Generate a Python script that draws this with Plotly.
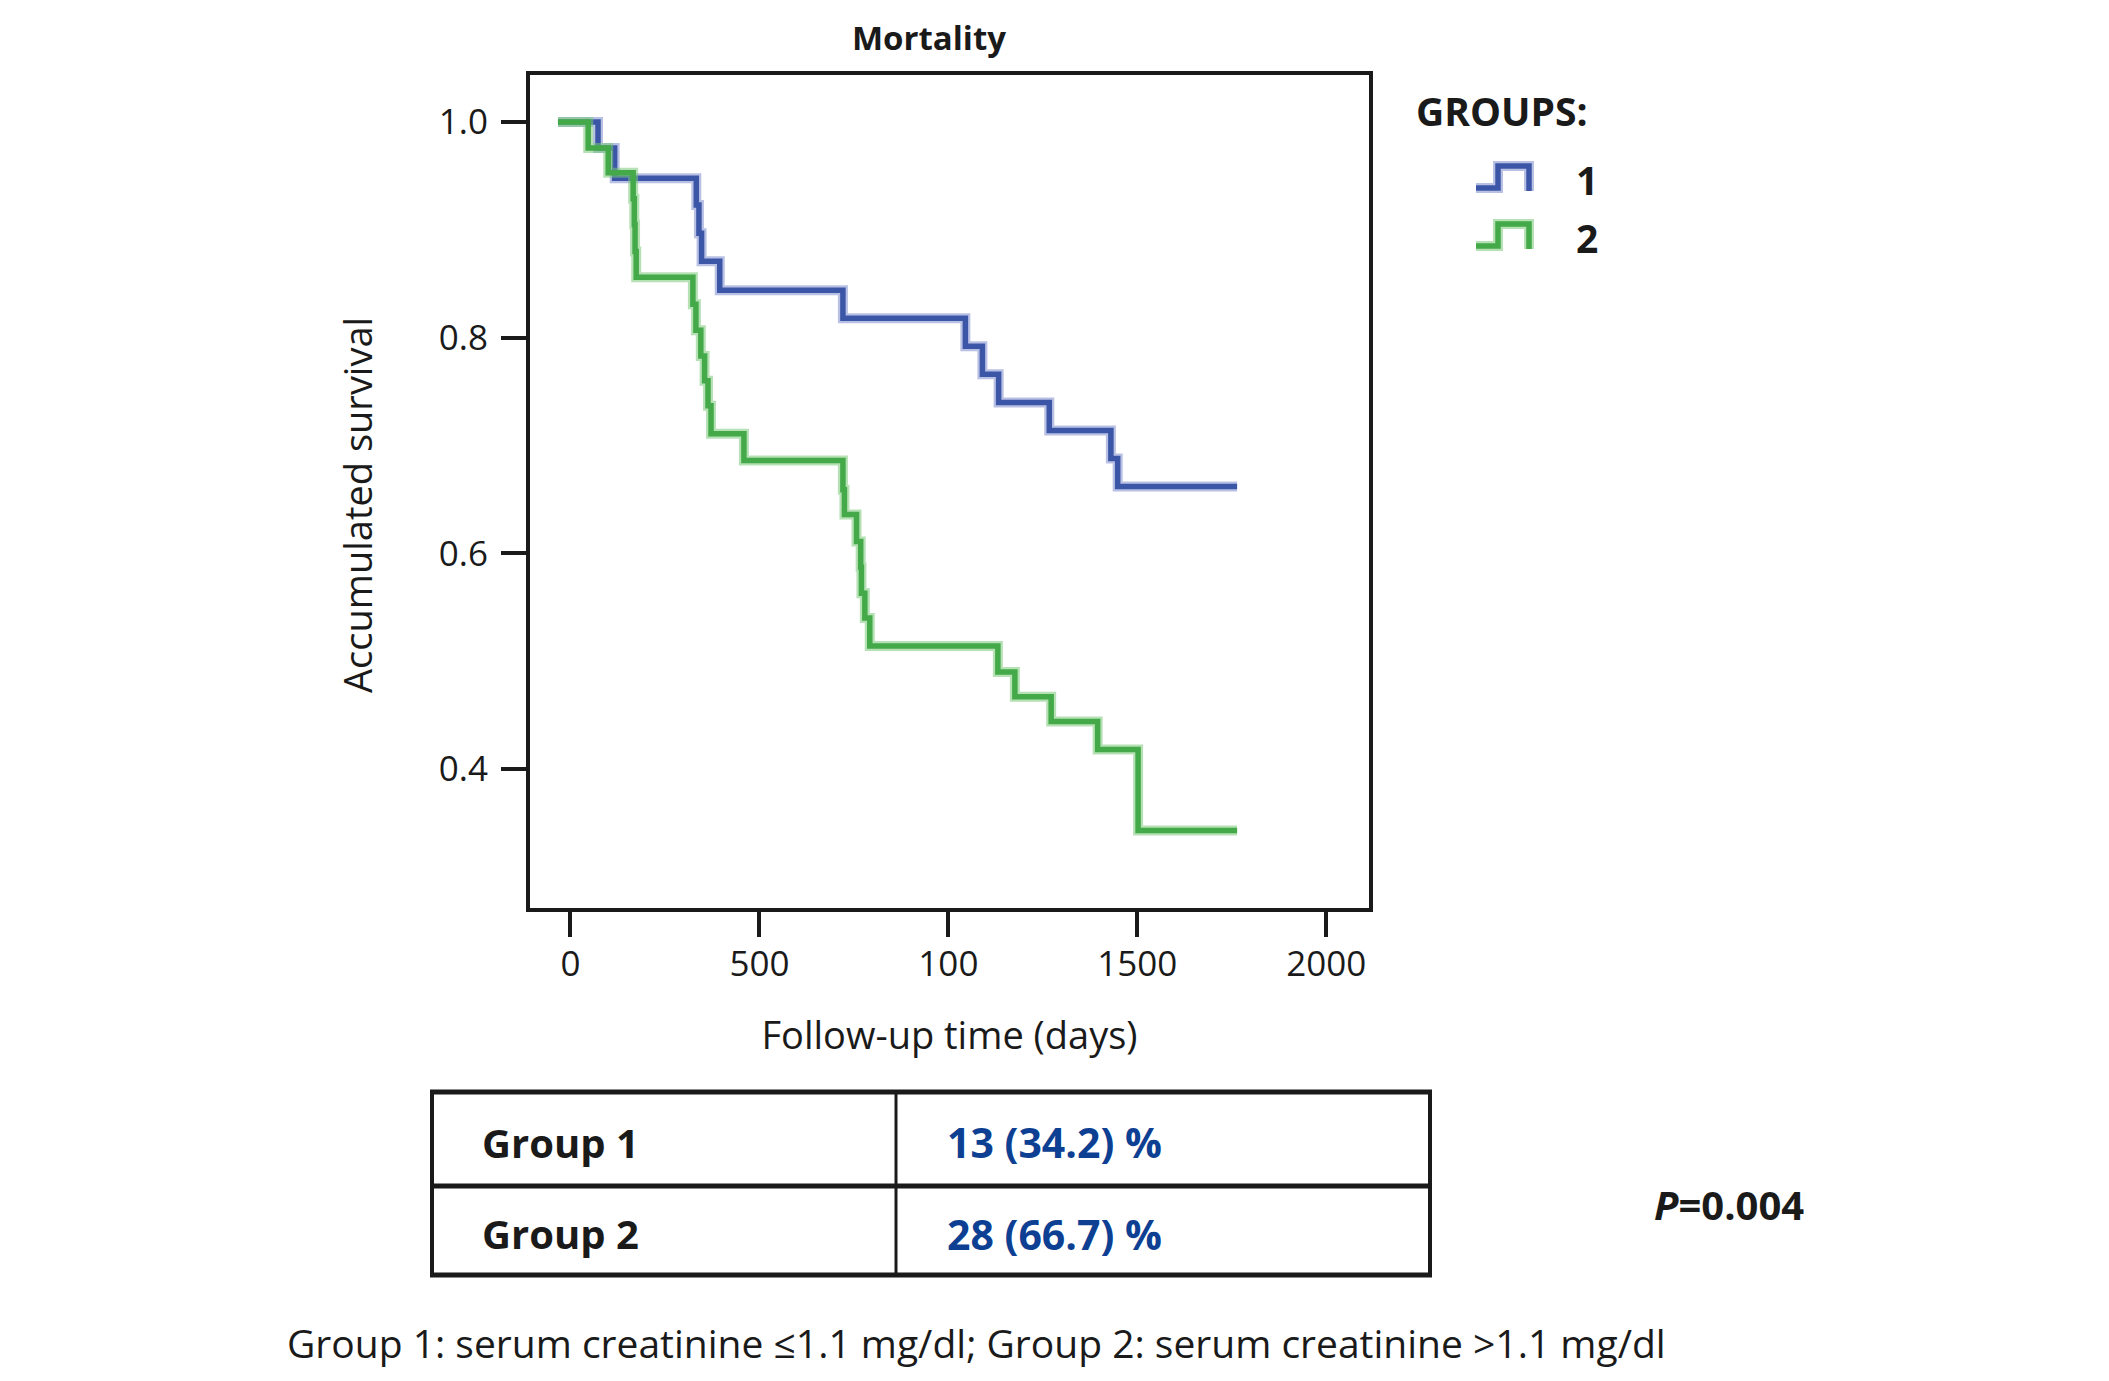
import plotly.graph_objects as go

W, H = 2109, 1381

# Kaplan-Meier steps: day of each drop and the survival after it
group1_days = [-33, 73, 117, 333, 340, 347, 395, 721, 1045, 1090, 1133, 1267, 1430, 1448, 1764]
group1_surv = [1.0, 0.976, 0.948, 0.923, 0.897, 0.871, 0.844, 0.818, 0.792, 0.766, 0.740,
               0.714, 0.688, 0.662, 0.662]

group2_days = [-33, 47, 100, 166, 169, 171, 174, 324, 332, 345, 355, 364, 372, 459,
               721, 725, 757, 768, 770, 779, 792, 1131, 1176, 1272, 1395, 1502, 1764]
group2_surv = [1.0, 0.976, 0.953, 0.929, 0.905, 0.880, 0.856, 0.831, 0.807, 0.783, 0.760,
               0.737, 0.711, 0.686, 0.659, 0.636, 0.611, 0.587, 0.563, 0.540, 0.514,
               0.490, 0.467, 0.444, 0.418, 0.343, 0.343]

x_tick_vals = [0, 500, 1000, 1500, 2000]
x_tick_text = ["0", "500", "100", "1500", "2000"]  # "100" is what the figure prints
y_tick_vals = [0.4, 0.6, 0.8, 1.0]

group_names = ["1", "2"]
table_groups = ["Group 1", "Group 2"]
table_values = ["13 (34.2) %", "28 (66.7) %"]
p_value = "0.004"
caption = "Group 1: serum creatinine \u22641.1 mg/dl; Group 2: serum creatinine >1.1 mg/dl"

BLUE, BLUE_HALO = "#3c56a7", "rgba(125,140,205,0.55)"
GREEN, GREEN_HALO = "#44a948", "rgba(120,200,120,0.55)"
INK = "#1a1a1a"
FONT = "Open Sans"


def px(x):
    return x / W


def py(y):
    return 1 - y / H


fig = go.Figure()
for days, surv, col, halo, name in [
    (group1_days, group1_surv, BLUE, BLUE_HALO, group_names[0]),
    (group2_days, group2_surv, GREEN, GREEN_HALO, group_names[1]),
]:
    # light fringe under the curve, like the printed original
    fig.add_trace(go.Scatter(x=days, y=surv, mode="lines", line_shape="hv",
                             line=dict(color=halo, width=10), hoverinfo="skip"))
    fig.add_trace(go.Scatter(x=days, y=surv, mode="lines", line_shape="hv",
                             line=dict(color=col, width=5.5), name=name))

axis_style = dict(
    showline=True, linewidth=4, linecolor=INK, mirror=True,
    ticks="outside", ticklen=25, tickwidth=4, tickcolor=INK,
    showgrid=False, zeroline=False, automargin=False,
    tickfont=dict(size=35, color=INK),
)
fig.update_xaxes(
    domain=[px(522), px(1361)], range=[-107, 2113],
    tickvals=x_tick_vals, ticktext=x_tick_text,
    title=dict(text="Follow-up time (days)", font=dict(size=38), standoff=38),
    ticklabelstandoff=-3,
    **axis_style,
)
fig.update_yaxes(
    domain=[py(900), py(67)], range=[0.271, 1.0437],
    tickvals=y_tick_vals, tickformat=".1f",
    ticklabelstandoff=6,
    **axis_style,
)

shapes = []
annotations = []

# y title sits a little below the middle of the axis in the original
annotations.append(dict(text="Accumulated survival", x=px(349), y=py(497), xref="paper",
                        yref="paper", textangle=-90, xanchor="center", yanchor="middle",
                        showarrow=False, font=dict(size=38, color=INK)))

# legend
annotations.append(dict(text="<b>GROUPS:</b>", x=px(1406), y=py(103), xref="paper", yref="paper",
                        xanchor="left", yanchor="middle", showarrow=False,
                        font=dict(size=39, color=INK)))
for i, (name, col, halo) in enumerate(zip(group_names, [BLUE, GREEN], [BLUE_HALO, GREEN_HALO])):
    dy = 58 * i
    path = (f"M {px(1468)},{py(180 + dy)} L {px(1490)},{py(180 + dy)} L {px(1490)},{py(158 + dy)} "
            f"L {px(1521)},{py(158 + dy)} L {px(1521)},{py(183 + dy)}")
    shapes.append(dict(type="path", path=path, xref="paper", yref="paper",
                       line=dict(color=halo, width=10)))
    shapes.append(dict(type="path", path=path, xref="paper", yref="paper",
                       line=dict(color=col, width=5.5)))
    annotations.append(dict(text=f"<b>{name}</b>", x=px(1566), y=py(172 + dy), xref="paper",
                            yref="paper", xanchor="left", yanchor="middle", showarrow=False,
                            font=dict(size=39, color=INK)))

# table of mortality counts
t_left, t_mid, t_right = 424, 888, 1422
t_rows = [1084, 1178, 1267]
for y in t_rows:
    shapes.append(dict(type="line", xref="paper", yref="paper", x0=px(t_left - 2), x1=px(t_right + 2),
                       y0=py(y), y1=py(y), line=dict(color=INK, width=5)))
for x, w in [(t_left, 4), (t_mid, 3), (t_right, 4)]:
    shapes.append(dict(type="line", xref="paper", yref="paper", x0=px(x), x1=px(x),
                       y0=py(t_rows[0]), y1=py(t_rows[-1]), line=dict(color=INK, width=w)))
for i, (grp, val) in enumerate(zip(table_groups, table_values)):
    yc = (t_rows[i] + t_rows[i + 1]) / 2 + 3
    annotations.append(dict(text=f"<b>{grp}</b>", x=px(472), y=py(yc), xref="paper", yref="paper",
                            xanchor="left", yanchor="middle", showarrow=False,
                            font=dict(size=40, color=INK)))
    annotations.append(dict(text=f"<b>{val}</b>", x=px(937), y=py(yc), xref="paper", yref="paper",
                            xanchor="left", yanchor="middle", showarrow=False,
                            font=dict(size=41, color="#0d3f93")))

annotations.append(dict(text=f"<b><i>P</i>={p_value}</b>", x=px(1644), y=py(1196), xref="paper",
                        yref="paper", xanchor="left", yanchor="middle", showarrow=False,
                        font=dict(size=40, color=INK)))
annotations.append(dict(text=caption, x=px(968), y=py(1334), xref="paper", yref="paper",
                        xanchor="center", yanchor="middle", showarrow=False,
                        font=dict(size=39, color=INK)))

fig.update_layout(
    width=W, height=H,
    margin=dict(l=0, r=0, t=0, b=0),
    paper_bgcolor="white", plot_bgcolor="white",
    showlegend=False,
    font=dict(family=FONT, size=36, color=INK),
    title=dict(text="<b>Mortality</b>", x=px(921), y=py(30), xanchor="center", yanchor="middle",
               font=dict(size=33, color=INK)),
    shapes=shapes,
    annotations=annotations,
)

fig.write_html("out.html")
